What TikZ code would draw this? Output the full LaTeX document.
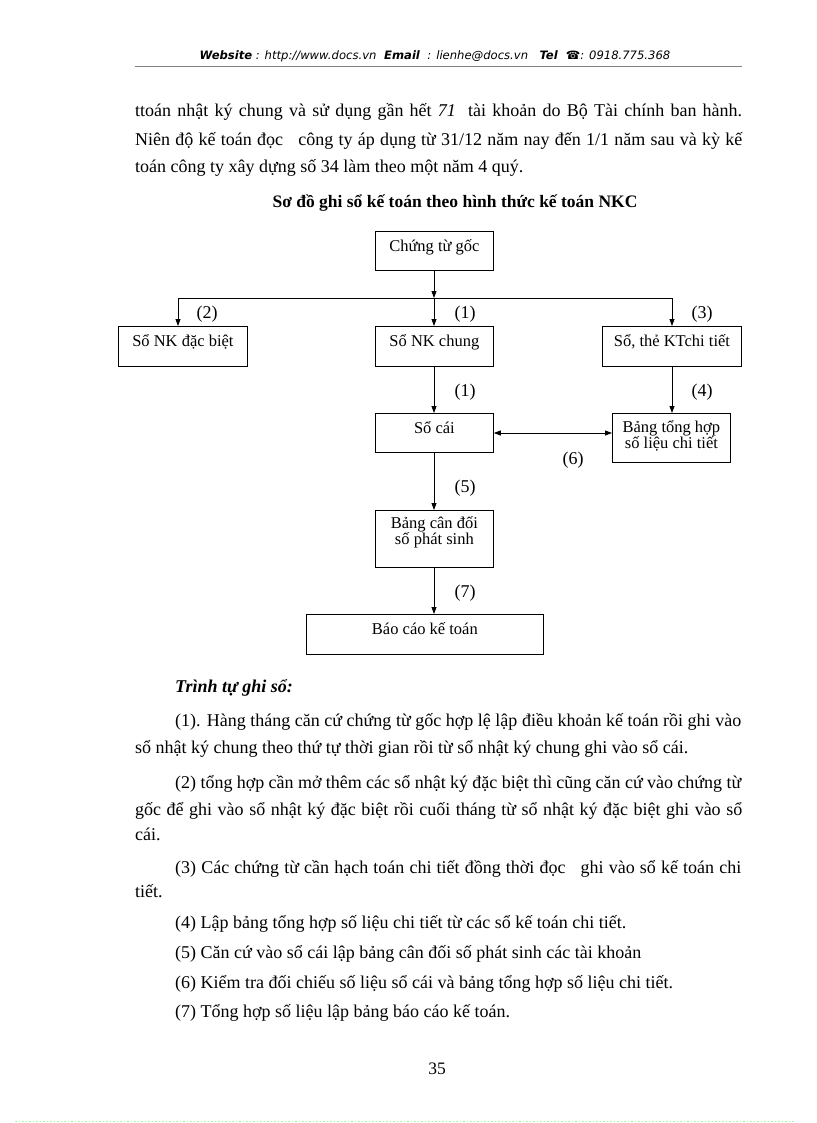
\documentclass[tikz,border=0pt]{standalone}
\usepackage{fontspec}
\setmainfont{Liberation Serif}
\newfontfamily\hdrfont{DejaVu Sans}
\usetikzlibrary{arrows.meta}
\newcommand{\boxcontent}[4]{\parbox[c][#2pt][t]{#1pt}{\centering\lineskiplimit=-100pt\rule{0pt}{#3pt}#4}}
\newcommand{\jus}[2]{\makebox[#1pt][s]{#2}}
\begin{document}
\begin{tikzpicture}[x=1pt,y=-1pt,
  bx/.style={draw, line width=0.8pt, inner sep=0pt, anchor=north west, font=\fontsize{16.5}{16}\selectfont},
  arr/.style={-{Triangle[length=7pt,width=5pt]}, line width=0.8pt},
  dbl/.style={{Triangle[length=7pt,width=5pt]}-{Triangle[length=7pt,width=5pt]}, line width=0.8pt},
  ln/.style={line width=0.8pt},
  lbl/.style={inner sep=0pt, font=\fontsize{18}{18}\selectfont},
  txt/.style={anchor=base west, inner sep=0pt, font=\fontsize{18}{20}\selectfont},
  hdr/.style={anchor=base, inner sep=0pt, font=\hdrfont\fontsize{11.6}{13}\selectfont}]
\useasboundingbox (0,0) rectangle (816,1123);
\fill[white] (0,0) rectangle (816,1123);

% header
\node[hdr] (header) at (435,60) {\textbf{\textit{Website}}\textit{ : http://www.docs.vn }\textbf{\textit{ Email}}\textit{ \ : lienhe@docs.vn \ }\textbf{\textit{ Tel \ ☎}}\textit{: 0918.775.368}};
\draw[line width=0.6pt, gray] (135,66) -- (742,66);

% intro paragraph
\node[txt] (l1) at (135,117) {\jus{607}{ttoán nhật ký chung và sử dụng gần hết \textit{71}\hspace{6pt} tài khoản do Bộ Tài chính ban hành.}};
\node[txt] (l2) at (135,146) {\jus{607}{Niên độ kế toán đọc\hspace{10pt} công ty áp dụng từ 31/12 năm nay đến 1/1 năm sau và kỳ kế}};
\node[txt] (l3) at (135,173) {toán công ty xây dựng số 34 làm theo một năm 4 quý.};

% title
\node[anchor=base, inner sep=0pt, font=\fontsize{17.5}{20}\selectfont\bfseries] (title) at (455,208) {Sơ đồ ghi sổ kế toán theo hình thức kế toán NKC};

% diagram boxes
\node[bx] (ctg) at (375,231) {\boxcontent{118}{39}{20}{Chứng từ gốc}};
\node[bx] (dacbiet) at (118,326) {\boxcontent{129}{40}{20}{Sổ NK đặc biệt}};
\node[bx] (nkchung) at (375,326) {\boxcontent{118}{40}{20}{Sổ NK chung}};
\node[bx] (sothe) at (602,326) {\boxcontent{139}{40}{20}{Sổ, thẻ KTchi tiết}};
\node[bx] (socai) at (375,413) {\boxcontent{118}{39}{20}{Sổ cái}};
\node[bx] (bangth) at (612,413) {\boxcontent{118}{49}{19}{Bảng tổng hợp\\số liệu chi tiết}};
\node[bx] (bangcd) at (375,510) {\boxcontent{118}{57}{18}{Bảng cân đối\\số phát sinh}};
\node[bx] (baocao) at (306,614) {\boxcontent{237}{40}{20}{Báo cáo kế toán}};

% connectors
\coordinate (j) at (434,298);
\coordinate (jl) at (178,298);
\coordinate (jr) at (672,298);
\draw[arr] (ctg.south -| j) -- (j);
\draw[ln] (jl) -- (jr);
\draw[arr] (jl) -- (jl |- dacbiet.north);
\draw[arr] (j) -- (j |- nkchung.north);
\draw[arr] (jr) -- (jr |- sothe.north);
\draw[arr] (nkchung.south -| j) -- (j |- socai.north);
\draw[arr] (sothe.south -| jr) -- (jr |- bangth.north);
\draw[dbl] (socai.east |- 0,433) -- (bangth.west |- 0,433);
\draw[arr] (socai.south -| j) -- (j |- bangcd.north);
\draw[arr] (bangcd.south -| j) -- (j |- baocao.north);

% labels
\node[lbl] (n2) at (207,314) {(2)};
\node[lbl] (n1a) at (465,314) {(1)};
\node[lbl] (n3) at (702,314) {(3)};
\node[lbl] (n1b) at (465,392) {(1)};
\node[lbl] (n4) at (702,392) {(4)};
\node[lbl] (n6) at (573,460) {(6)};
\node[lbl] (n5) at (465,488) {(5)};
\node[lbl] (n7) at (465,593) {(7)};

% body text
\node[txt] (t0) at (175,692) {\textbf{\textit{Trình tự ghi sổ:}}};
\node[txt] (p1a) at (175,726) {\jus{566}{(1). Hàng tháng căn cứ chứng từ gốc hợp lệ lập điều khoản kế toán rồi ghi vào}};
\node[txt] (p1b) at (135,753) {sổ nhật ký chung theo thứ tự thời gian rồi từ sổ nhật ký chung ghi vào sổ cái.};
\node[txt] (p2a) at (175,788) {\jus{566}{(2) tổng hợp cần mở thêm các sổ nhật ký đặc biệt thì cũng căn cứ vào chứng từ}};
\node[txt] (p2b) at (135,815) {\jus{607}{gốc để ghi vào sổ nhật ký đặc biệt rồi cuối tháng từ sổ nhật ký đặc biệt ghi vào sổ}};
\node[txt] (p2c) at (135,840) {cái.};
\node[txt] (p3a) at (175,873) {\jus{566}{(3) Các chứng từ cần hạch toán chi tiết đồng thời đọc\hspace{10pt} ghi vào sổ kế toán chi}};
\node[txt] (p3b) at (135,897) {tiết.};
\node[txt] (p4) at (175,928) {(4) Lập bảng tổng hợp số liệu chi tiết từ các sổ kế toán chi tiết.};
\node[txt] (p5) at (175,958) {(5) Căn cứ vào sổ cái lập bảng cân đối số phát sinh các tài khoản};
\node[txt] (p6) at (175,988) {(6) Kiểm tra đối chiếu số liệu sổ cái và bảng tổng hợp số liệu chi tiết.};
\node[txt] (p7) at (175,1017) {(7) Tổng hợp số liệu lập bảng báo cáo kế toán.};

% page number
\node[anchor=base, inner sep=0pt, font=\fontsize{17.5}{20}\selectfont] (pg) at (437,1074) {35};
\draw[line width=0.8pt, green!40!white, dash pattern=on 1.5pt off 2pt] (15,1121) -- (795,1121);
\end{tikzpicture}
\end{document}
